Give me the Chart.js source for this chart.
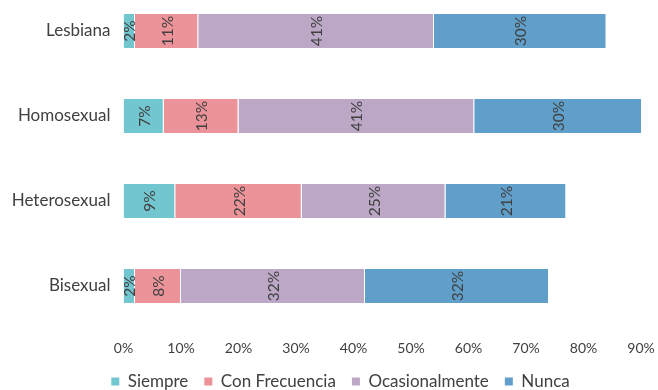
<!DOCTYPE html>
<html>
<head>
<meta charset="utf-8">
<script src="https://cdn.jsdelivr.net/npm/chart.js@4.4.1/dist/chart.umd.min.js"></script>
<style>
  html, body { margin: 0; padding: 0; background: #fff; }
  #wrap { width: 658px; height: 390px; }
</style>
</head>
<body>
<div id="wrap"><canvas id="chart"></canvas></div>
<script>
const categories = ["Lesbiana", "Homosexual", "Heterosexual", "Bisexual"];
const seriesNames = ["Siempre", "Con Frecuencia", "Ocasionalmente", "Nunca"];
const siempre = [2, 7, 9, 2];
const conFrecuencia = [11, 13, 22, 8];
const ocasionalmente = [41, 41, 25, 32];
const nunca = [30, 30, 21, 32];
const axisMax = 90;
const axisStep = 10;

const colors = ["#72c6cf", "#eb9399", "#bca8c6", "#609fca"];
const textColor = "#404040";
const fontFamily = "Lato, 'Open Sans', sans-serif";

// rotated percentage in the middle of each segment
const barLabels = {
  id: "barLabels",
  afterDatasetsDraw(chart) {
    const ctx = chart.ctx;
    const area = chart.chartArea;
    ctx.save();
    ctx.font = `15.5px ${fontFamily}`;
    ctx.fillStyle = textColor;
    ctx.textAlign = "center";
    ctx.textBaseline = "middle";
    chart.data.datasets.forEach((ds, i) => {
      chart.getDatasetMeta(i).data.forEach((bar, j) => {
        const right = Math.min(bar.x, area.right);
        const cx = (bar.base + right) / 2;
        ctx.save();
        ctx.translate(cx, bar.y);
        ctx.rotate(-Math.PI / 2);
        ctx.fillText(ds.data[j] + "%", 0, 1);
        ctx.restore();
      });
    });
    ctx.restore();
  },
};

// the legend sits a bit right of the canvas centre
const legendShift = {
  id: "legendShift",
  afterLayout(chart) {
    chart.legend.left += 40;
  },
};

const values = [siempre, conFrecuencia, ocasionalmente, nunca];

new Chart(document.getElementById("chart"), {
  type: "bar",
  data: {
    labels: categories,
    datasets: values.map((data, i) => ({
      label: seriesNames[i],
      data,
      backgroundColor: colors[i],
      borderColor: "rgba(255,255,255,0.55)",
      borderWidth: { right: 1 },
      categoryPercentage: 0.8,
      barPercentage: 0.5,
      clip: { left: 0, right: 0, top: false, bottom: false },
    })),
  },
  options: {
    indexAxis: "y",
    responsive: true,
    maintainAspectRatio: false,
    animation: false,
    layout: { padding: { top: 31, right: 17, bottom: 0, left: 0 } },
    plugins: {
      tooltip: { enabled: false },
      legend: {
        position: "bottom",
        maxHeight: 33,
        labels: {
          boxWidth: 8,
          boxHeight: 8,
          padding: 16,
          color: textColor,
          font: { family: fontFamily, size: 17 },
          generateLabels: (chart) => chart.data.datasets.map((ds, i) => ({
            text: ds.label,
            fillStyle: ds.backgroundColor,
            strokeStyle: ds.backgroundColor,
            lineWidth: 0,
            fontColor: textColor,
            datasetIndex: i,
          })),
        },
      },
    },
    scales: {
      x: {
        stacked: true,
        min: 0,
        max: axisMax,
        grid: { display: false, drawTicks: false },
        border: { display: false },
        ticks: {
          stepSize: axisStep,
          padding: 3,
          color: textColor,
          font: { family: fontFamily, size: 14, lineHeight: 118 / 14 },
          callback: (v) => v + "%",
        },
        afterFit: (scale) => { scale.height = 71; },
      },
      y: {
        stacked: true,
        offset: false,
        grid: { display: false, drawTicks: false },
        border: { display: false },
        ticks: {
          padding: 13,
          color: textColor,
          font: { family: fontFamily, size: 17 },
        },
        afterFit: (scale) => { scale.width = 123.5; },
      },
    },
  },
  plugins: [barLabels, legendShift],
});
</script>
</body>
</html>
